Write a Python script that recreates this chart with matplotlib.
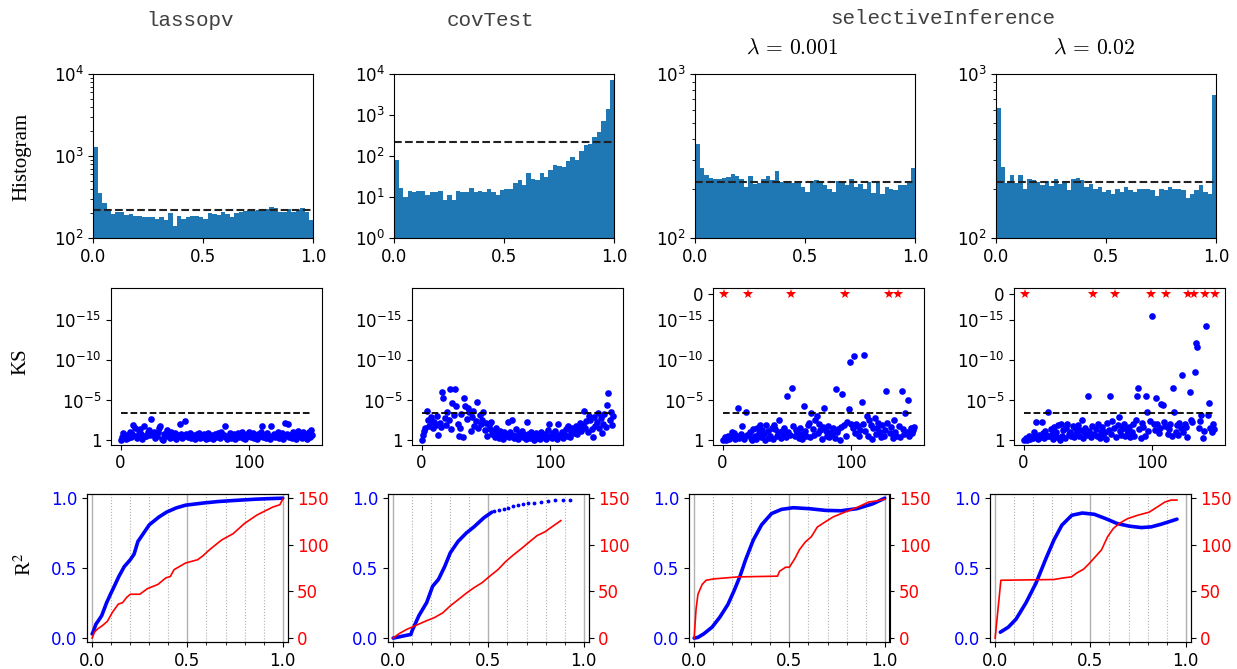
import numpy as np
import matplotlib
matplotlib.use('Agg')
import matplotlib.pyplot as plt
from matplotlib.ticker import NullFormatter, MultipleLocator, LogLocator

# ---------------- data ----------------
methods = ['lassopv', 'covTest', 'selectiveInference']
lambdas = [r'$\lambda\, =\, 0.001$', r'$\lambda\, =\, 0.02$']

# histogram counts, 50 bins on [0, 1]
hist_lasso = [1300, 350, 265, 215, 195, 205, 205, 190, 195, 185, 185, 182, 180, 178, 172, 180, 165, 200, 140, 185,
              170, 180, 185, 188, 180, 170, 200, 195, 190, 205, 195, 178, 200, 205, 212, 220, 215, 222, 220, 225,
              240, 230, 210, 205, 225, 205, 220, 230, 210, 168]
hist_cov = [78, 17, 10, 14, 13, 14, 14, 11, 13, 13, 14, 8.5, 11, 8.5, 14, 13, 13, 17, 13, 14,
            13, 16, 13, 11, 15, 16, 16, 22, 26, 20, 38, 28, 26, 38, 30, 45, 62, 58, 55, 75,
            95, 80, 130, 185, 200, 290, 390, 700, 1400, 7000]
hist_si1 = [375, 268, 243, 232, 230, 228, 232, 235, 245, 240, 230, 205, 238, 213, 215, 228, 240, 225, 255, 220,
            217, 222, 215, 218, 205, 190, 222, 225, 215, 210, 200, 190, 222, 215, 210, 228, 205, 212, 200, 218,
            188, 222, 185, 205, 200, 195, 210, 210, 222, 268]
hist_si2 = [620, 270, 215, 243, 215, 243, 198, 230, 225, 220, 210, 222, 208, 228, 212, 222, 195, 230, 232, 225,
            205, 212, 200, 205, 190, 195, 185, 200, 190, 205, 195, 190, 200, 200, 200, 195, 180, 200, 195, 205,
            200, 198, 195, 175, 185, 195, 210, 190, 185, 745]
hist_expected = 220
hist_ylims = [(1e2, 1e4), (1e0, 1e4), (1e2, 1e3), (1e2, 1e3)]

# KS test: -log10(p) per variable, inf where p == 0
inf = float('inf')
ks_lasso = [0.1, 0.4, 0.9, 0.6, 0.2, 0.7, 0.3, 1.1, 0.4, 0.8,
            1.9, 1.6, 0.5, 0.3, 1.2, 1.4, 0.8, 0.2, 1.8, 0.6,
            0.5, 1.0, 1.3, 0.7, 2.7, 0.9, 1.0, 0.3, 0.6, 1.1,
            1.5, 1.8, 0.2, 0.1, 0.8, 0.5, 1.3, 0.9, 0.3, 1.0,
            0.4, 0.6, 0.9, 0.2, 0.7, 0.5, 2.1, 0.8, 0.3, 0.6,
            2.4, 0.8, 0.4, 0.5, 0.9, 0.3, 0.7, 0.6, 0.2, 0.8,
            0.5, 0.9, 0.3, 0.7, 0.4, 0.8, 0.2, 0.6, 0.9, 0.3,
            0.7, 0.5, 0.2, 0.8, 0.4, 0.6, 0.9, 0.3, 1.1, 0.5,
            0.7, 1.8, 0.4, 0.2, 0.6, 0.9, 0.3, 0.5, 0.8, 0.2,
            0.6, 0.9, 0.4, 0.7, 1.0, 0.3, 0.6, 0.2, 0.8, 0.5,
            1.1, 0.4, 0.7, 0.9, 0.3, 0.6, 0.2, 0.8, 0.5, 1.0,
            1.8, 0.4, 0.7, 0.3, 0.9, 0.6, 0.2, 1.8, 0.5, 0.8,
            0.4, 0.7, 1.0, 0.3, 0.6, 0.9, 0.2, 0.5, 2.2, 0.8,
            2.0, 0.4, 0.7, 0.3, 1.0, 0.6, 0.2, 0.8, 1.2, 0.5,
            0.9, 0.3, 1.1, 0.6, 0.8, 0.2, 1.0, 0.4, 1.3, 0.7]
ks_cov = [0.0, 0.7, 1.2, 1.6, 3.7, 2.5, 1.8, 2.9, 2.4, 1.5,
          2.3, 1.9, 3.1, 0.7, 2.2, 1.7, 6.0, 5.3, 2.8, 1.9,
          3.5, 2.6, 6.4, 1.4, 4.7, 3.2, 6.4, 4.3, 2.1, 0.6,
          1.5, 3.3, 0.4, 5.3, 4.3, 2.7, 4.1, 3.6, 1.2, 2.9,
          3.7, 1.8, 2.4, 4.8, 1.6, 3.2, 2.0, 2.5, 3.5, 1.3,
          2.2, 0.5, 1.9, 1.4, 2.3, 0.8, 1.1, 0.4, 1.6, 0.9,
          0.3, 1.2, 0.6, 0.2, 1.0, 0.5, 0.8, 2.3, 0.4, 1.1,
          2.5, 0.7, 0.3, 1.4, 0.6, 0.2, 0.9, 0.5, 1.2, 0.4,
          0.7, 0.2, 2.3, 0.8, 0.3, 1.0, 0.5, 0.1, 0.6, 0.9,
          0.3, 0.7, 0.2, 1.1, 0.5, 0.4, 0.8, 0.2, 1.3, 2.1,
          0.6, 0.3, 0.9, 0.4, 1.2, 0.2, 2.0, 0.7, 0.5, 1.0,
          0.3, 0.8, 1.4, 0.6, 1.8, 0.4, 1.1, 1.6, 0.9, 1.3,
          1.85, 0.8, 1.5, 2.2, 1.2, 1.9, 3.7, 1.6, 2.4, 1.0,
          3.1, 2.6, 1.4, 0.4, 2.9, 1.8, 2.3, 3.4, 1.5, 2.8,
          0.9, 2.1, 3.3, 1.7, 4.4, 5.9, 2.6, 3.5, 1.9, 3.0]
ks_si1 = [0.0, inf, 0.4, 0.1, 0.6, 0.2, 0.3, 1.0, 0.5, 0.9,
          0.2, 0.6, 4.1, 0.3, 0.8, 1.8, 0.4, 0.2, 3.5, 0.7,
          inf, 1.1, 0.3, 0.0, 1.4, 0.5, 0.2, 1.6, 0.9, 1.9,
          0.4, 1.3, 0.8, 0.1, 1.9, 1.2, 0.3, 0.6, 1.5, 0.2,
          1.9, 1.4, 0.5, 1.0, 2.6, 0.3, 1.2, 0.8, 1.6, 0.4,
          5.6, 1.1, 0.7, inf, 6.6, 1.8, 0.5, 1.3, 0.9, 0.3,
          1.5, 0.8, 0.2, 4.3, 1.2, 0.6, 1.9, 2.2, 0.4, 3.4,
          1.4, 0.7, 2.5, 3.1, 0.9, 2.0, 1.3, 0.2, 1.7, 4.1,
          1.2, 0.6, 1.8, 0.4, 1.1, 0.8, 1.5, 0.3, 6.4, 1.0,
          1.4, 0.0, 1.7, 5.8, 1.9, inf, 0.6, 2.3, 3.9, 9.8,
          2.0, 1.6, 10.6, 0.9, 2.1, 1.8, 0.5, 1.3, 4.8, 2.0,
          10.7, 1.2, 3.1, 0.6, 2.5, 1.9, 0.2, 1.6, 2.8, 0.8,
          1.5, 2.2, 1.0, 0.4, 1.9, 0.6, 1.3, 6.2, 2.2, inf,
          0.9, 1.7, 0.3, 2.6, 1.1, 0.5, inf, 1.8, 0.4, 6.2,
          1.4, 0.8, 3.4, 1.0, 5.1, 0.5, 1.6, 0.9, 1.3, 1.7]
ks_si2 = [0.0, inf, 0.3, 0.1, 0.6, 0.2, 0.4, 0.3, 1.1, 0.5,
          2.3, 0.2, 0.7, 0.4, 2.3, 0.9, 0.3, 1.2, 0.6, 3.5,
          0.5, 1.4, 0.8, 0.2, 1.7, 1.0, 0.4, 1.9, 0.1, 2.0,
          0.6, 1.3, 0.3, 1.6, 2.0, 0.8, 1.1, 0.5, 1.8, 0.4,
          1.5, 0.9, 1.9, 0.6, 1.3, 2.6, 0.3, 1.0, 1.6, 0.7,
          5.6, 1.2, 0.4, 1.8, inf, 0.8, 1.4, 0.6, 2.0, 0.3,
          1.1, 1.7, 0.5, 1.0, 0.2, 2.2, 1.3, 5.6, 0.8, 2.4,
          1.5, inf, 0.4, 1.9, 2.9, 1.2, 0.7, 1.6, 2.0, 0.5,
          1.3, 0.8, 1.7, 0.4, 1.1, 2.0, 0.6, 2.6, 5.6, 6.5,
          1.4, 0.3, 2.2, 1.7, 0.6, 5.5, 3.5, 1.2, 2.4, inf,
          15.6, 2.0, 1.3, 5.3, 2.1, 0.9, 1.6, 4.6, 4.4, 2.3,
          1.8, inf, 0.8, 1.4, 2.1, 0.5, 6.5, 3.5, 1.1, 1.9,
          0.7, 2.2, 1.5, 8.2, 1.0, 2.0, 1.7, 0.4, inf, 6.1,
          2.6, 2.3, inf, 8.5, 12.2, 11.7, 1.6, 2.4, 3.2, 0.3,
          1.2, inf, 14.3, 3.2, 4.7, 1.5, 1.0, 2.0, 1.4, inf]
ks_threshold = -np.log10(0.05 / 150)
ks_zero_pos = 18.3

# R^2 (blue) and number of variables (red)
r2_lasso_x = [0, 0.004, 0.02, 0.033, 0.05, 0.075, 0.095, 0.116, 0.14, 0.168, 0.2, 0.22, 0.24, 0.27, 0.30, 0.35, 0.39,
              0.44, 0.49, 0.58, 0.66, 0.76, 0.86, 0.93, 1.0]
r2_lasso_y = [0.03, 0.04, 0.1, 0.125, 0.16, 0.25, 0.31, 0.37, 0.44, 0.51, 0.56, 0.6, 0.69, 0.75, 0.81, 0.865, 0.90,
              0.93, 0.95, 0.965, 0.976, 0.985, 0.993, 0.997, 1.0]
n_lasso_x = [0, 0.012, 0.03, 0.054, 0.08, 0.106, 0.137, 0.16, 0.18, 0.2, 0.25, 0.27, 0.29, 0.345, 0.387, 0.41, 0.43,
             0.49, 0.553, 0.58, 0.615, 0.678, 0.74, 0.80, 0.865, 0.948, 0.985, 1.0]
n_lasso_y = [0, 6.4, 10, 13.4, 18, 27.5, 36.4, 38, 43.4, 47, 47, 50, 53, 57.5, 64.6, 66, 73.4,
             80.5, 84, 88, 94.6, 105, 112, 123, 132, 140.5, 143, 149]

r2_cov_x = [0, 0.03, 0.07, 0.093, 0.1, 0.135, 0.176, 0.207, 0.238, 0.27, 0.30, 0.34, 0.383, 0.424, 0.476, 0.518]
r2_cov_y = [0, 0.008, 0.02, 0.026, 0.054, 0.16, 0.254, 0.37, 0.42, 0.51, 0.61, 0.69, 0.75, 0.795, 0.86, 0.90]
r2_cov_tail_x = [0.53, 0.555, 0.58, 0.605, 0.63, 0.655, 0.68, 0.71, 0.74, 0.775, 0.81, 0.85, 0.89, 0.93]
r2_cov_tail_y = [0.905, 0.915, 0.925, 0.933, 0.942, 0.95, 0.957, 0.963, 0.969, 0.975, 0.98, 0.985, 0.988, 0.99]
n_cov_x = [0, 0.03, 0.07, 0.135, 0.176, 0.217, 0.26, 0.30, 0.34, 0.383, 0.424, 0.466, 0.507, 0.55, 0.59, 0.63,
           0.673, 0.714, 0.756, 0.797, 0.838, 0.88]
n_cov_y = [0, 4.6, 9.2, 15, 18.7, 22, 27, 34.6, 41, 48, 54, 59.3, 66.4, 73.4, 82, 89, 96, 103, 110, 114, 120, 126]

r2_si1_x = [0, 0.02, 0.05, 0.094, 0.135, 0.177, 0.21, 0.24, 0.27, 0.31, 0.354, 0.406, 0.458, 0.52, 0.604, 0.6875,
            0.77, 0.854, 0.9375, 1.0]
r2_si1_y = [0, 0.005, 0.03, 0.078, 0.15, 0.24, 0.34, 0.44, 0.56, 0.70, 0.81, 0.89, 0.92, 0.932, 0.925, 0.913,
            0.91, 0.925, 0.96, 1.0]
n_si1_x = [0, 0.01, 0.02, 0.042, 0.0625, 0.104, 0.23, 0.4375, 0.448, 0.48, 0.5, 0.53, 0.552, 0.583, 0.615, 0.646,
           0.6875, 0.73, 0.79, 0.854, 0.917, 0.958, 1.0]
n_si1_y = [0, 31, 47, 57.5, 62, 63.5, 65.6, 66.4, 71.6, 76, 76, 85.8, 94.6, 103, 108.7, 119,
           124.6, 130, 135, 140, 146, 147, 149]

r2_si2_x = [0.027, 0.069, 0.11, 0.1625, 0.215, 0.267, 0.308, 0.35, 0.402, 0.4575, 0.52, 0.58, 0.64, 0.704, 0.767,
            0.819, 0.871, 0.954]
r2_si2_y = [0.042, 0.078, 0.136, 0.254, 0.395, 0.57, 0.70, 0.807, 0.878, 0.894, 0.885, 0.854, 0.819, 0.80, 0.79,
            0.795, 0.814, 0.85]
n_si2_x = [0, 0.03, 0.308, 0.36, 0.4, 0.43, 0.465, 0.496, 0.527, 0.558, 0.59, 0.62, 0.652, 0.694, 0.746, 0.808,
           0.85, 0.89, 0.923, 0.954]
n_si2_y = [0, 62, 62.8, 64.6, 65.6, 70, 74, 80.5, 87.5, 94.6, 108.7, 117.5, 123, 128, 131.6, 135,
           140.5, 145.8, 148, 148]

# ---------------- layout (pixels) ----------------
W, H = 1237, 669


def box(left, top, width, bottom):
    return [left / W, 1 - bottom / H, width / W, (bottom - top) / H]


plt.rcParams['xtick.labelsize'] = 12
plt.rcParams['ytick.labelsize'] = 12

fig = plt.figure(figsize=(W / 100, H / 100), dpi=100)

# row 1: histograms
edges = np.linspace(0, 1, 51)
hist_all = [hist_lasso, hist_cov, hist_si1, hist_si2]
for i, counts in enumerate(hist_all):
    ax = fig.add_axes(box(93.3 + 301 * i, 74, 220, 238))
    ax.stairs(counts, edges, fill=True, baseline=0.1, color='#1f77b4')
    ax.set_yscale('log')
    ax.set_ylim(*hist_ylims[i])
    ax.set_xlim(0, 1)
    ax.axhline(hist_expected, ls='--', color='#222222', lw=1.5)
    ax.yaxis.set_major_locator(LogLocator(base=10, numticks=12))
    ax.yaxis.set_minor_formatter(NullFormatter())
    ax.set_xticks([0, 0.5, 1.0])

# row 2: KS p-values
ks_all = [ks_lasso, ks_cov, ks_si1, ks_si2]
for i, ks in enumerate(ks_all):
    ax = fig.add_axes(box(111 + 301 * i, 288, 211, 444.5))
    y = np.array(ks, dtype=float)
    x = np.arange(len(y))
    fin = np.isfinite(y)
    ax.plot(x[fin], y[fin], 'o', color='blue', ms=4.8, mew=0)
    if (~fin).any():
        ax.plot(x[~fin], np.full((~fin).sum(), ks_zero_pos), '*', color='red', ms=7.5, mew=0)
    ax.hlines(ks_threshold, 0, len(y) - 1, ls='--', color='k', lw=1.3)
    ax.set_ylim(-0.5, 19.05)
    ticks = [0, 5, 10, 15]
    labels = ['1', r'$10^{-5}$', r'$10^{-10}$', r'$10^{-15}$']
    if i >= 2:
        ticks.append(ks_zero_pos)
        labels.append('0')
    ax.set_yticks(ticks)
    ax.set_yticklabels(labels)
    ax.set_xticks([0, 100])

# row 3: R^2 and number of selected variables
r2_all = [(r2_lasso_x, r2_lasso_y), (r2_cov_x, r2_cov_y), (r2_si1_x, r2_si1_y), (r2_si2_x, r2_si2_y)]
n_all = [(n_lasso_x, n_lasso_y), (n_cov_x, n_cov_y), (n_si1_x, n_si1_y), (n_si2_x, n_si2_y)]
for i in range(4):
    ax = fig.add_axes(box(87 + 301 * i, 494, 200.5, 642))
    ax.plot(*r2_all[i], color='blue', lw=2.6, solid_capstyle='round')
    if i == 1:
        ax.plot(r2_cov_tail_x, r2_cov_tail_y, '.', color='blue', ms=3.5)
    ax.set_xlim(-0.027, 1.025)
    ax.set_ylim(-0.028, 1.03)
    ax.set_xticks([0, 0.5, 1.0])
    ax.set_yticks([0, 0.5, 1.0])
    ax.xaxis.set_minor_locator(MultipleLocator(0.1))
    ax.grid(which='major', axis='x', color='#b0b0b0', lw=1)
    ax.grid(which='minor', axis='x', color='#b0b0b0', lw=0.8, ls=':')
    ax.tick_params(axis='y', labelcolor='blue')
    ax2 = ax.twinx()
    ax2.plot(*n_all[i], color='red', lw=1.2)
    ax2.set_ylim(-0.028 * 150, 1.03 * 150)
    ax2.set_yticks([0, 50, 100, 150])
    ax2.tick_params(axis='y', labelcolor='red')

# column titles
title_kw = dict(family='Liberation Mono', fontsize=15, color='#404040', ha='center', va='center')
fig.text(190 / W, 1 - 20 / H, methods[0], **title_kw)
fig.text(490 / W, 1 - 20 / H, methods[1], **title_kw)
fig.text(943 / W, 1 - 19 / H, methods[2], **title_kw)
fig.text(792 / W, 1 - 48 / H, lambdas[0], fontsize=15.5, math_fontfamily='cm', ha='center', va='center')
fig.text(1094 / W, 1 - 48 / H, lambdas[1], fontsize=15.5, math_fontfamily='cm', ha='center', va='center')

# row labels
row_kw = dict(family='Liberation Serif', fontsize=15, rotation=90, ha='center', va='center')
fig.text(22 / W, 1 - 157 / H, 'Histogram', **row_kw)
fig.text(21 / W, 1 - 362 / H, 'KS', **row_kw)
fig.text(25 / W, 1 - 564 / H, r'R$^2$', math_fontfamily='stix', **row_kw)

fig.savefig('out.png', dpi=100)
